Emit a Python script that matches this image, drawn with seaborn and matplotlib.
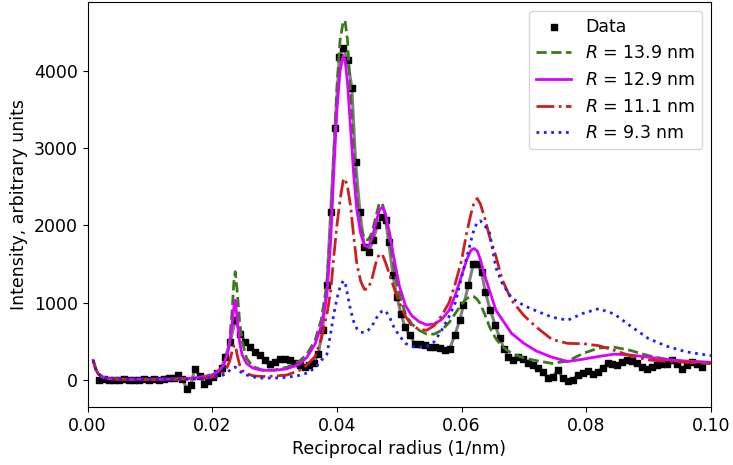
import matplotlib
matplotlib.use("Agg")
import matplotlib.pyplot as plt
import seaborn as sns

# measured data (reciprocal radius in 1/nm, intensity)
x_data = [0.0018, 0.0026, 0.0034, 0.0042, 0.0050, 0.0058, 0.0066, 0.0074, 0.0082, 0.0090,
          0.0098, 0.0106, 0.0114, 0.0122, 0.0130, 0.0138, 0.0145, 0.0152, 0.0159, 0.0166,
          0.0172, 0.0180, 0.0187, 0.0194, 0.0202, 0.0208, 0.0215, 0.0221, 0.0229, 0.0237,
          0.0245, 0.0253, 0.0261, 0.0269, 0.0277, 0.0285, 0.0293, 0.0301, 0.0309, 0.0317,
          0.0325, 0.0333, 0.0341, 0.0349, 0.0356, 0.0363, 0.0370, 0.0377, 0.0384, 0.0390,
          0.0397, 0.0404, 0.0410, 0.0417, 0.0424, 0.0430, 0.0437, 0.0444, 0.0451, 0.0458,
          0.0465, 0.0472, 0.0478, 0.0483, 0.0490, 0.0496, 0.0503, 0.0509, 0.0517, 0.0525,
          0.0533, 0.0541, 0.0549, 0.0557, 0.0565, 0.0573, 0.0581, 0.0589, 0.0597, 0.0603,
          0.0611, 0.0619, 0.0625, 0.0632, 0.0638, 0.0646, 0.0654, 0.0661, 0.0668, 0.0675,
          0.0683, 0.0691, 0.0699, 0.0707, 0.0715, 0.0723, 0.0731, 0.0739, 0.0746, 0.0754,
          0.0762, 0.0770, 0.0778, 0.0786, 0.0794, 0.0802, 0.0810, 0.0818, 0.0826, 0.0834,
          0.0842, 0.0850, 0.0858, 0.0866, 0.0874, 0.0882, 0.0890, 0.0898, 0.0906, 0.0914,
          0.0922, 0.0930, 0.0938, 0.0946, 0.0954, 0.0962, 0.0970, 0.0978, 0.0985]
y_data = [-10, 5, -5, 0, -10, 5, -5, 0, -10, 5,
          -5, 10, -5, 5, 15, 25, 56, 10, -117, -65,
          143, 43, -52, -18, 34, 86, 156, 294, 488, 770,
          597, 488, 423, 358, 315, 250, 208, 229, 273, 273,
          250, 216, 186, 164, 190, 220, 330, 640, 1225, 2170,
          3264, 4190, 4300, 4150, 3780, 2820, 2173, 1720, 1650, 1810,
          2000, 2112, 2069, 1787, 1355, 1073, 850, 683, 575, 467,
          467, 445, 423, 420, 410, 380, 402, 575, 770, 965,
          1225, 1506, 1506, 1393, 1140, 900, 705, 540, 402, 294,
          250, 294, 273, 220, 190, 150, 99, 20, 30, 130,
          20, -20, -10, 60, 80, 110, 78, 99, 150, 210,
          200, 186, 229, 250, 235, 215, 160, 143, 164, 190,
          208, 208, 250, 200, 143, 186, 229, 200, 164]

# model curves, sampled on a shared grid
x_fit = [0.0009, 0.0013, 0.0017, 0.0025, 0.0035, 0.006, 0.010, 0.014, 0.017, 0.019,
         0.020, 0.021, 0.0218, 0.0224, 0.0228, 0.0232, 0.0235, 0.0237, 0.0240, 0.0244,
         0.0248, 0.0255, 0.0265, 0.0280, 0.0300, 0.0320, 0.0340, 0.0352, 0.0365, 0.0375,
         0.0384, 0.0390, 0.0395, 0.0400, 0.0405, 0.0410, 0.0413, 0.0417, 0.0422, 0.0427,
         0.0432, 0.0438, 0.0444, 0.0450, 0.0456, 0.0462, 0.0468, 0.0473, 0.0478, 0.0485,
         0.0492, 0.0500, 0.0510, 0.0520, 0.0532, 0.0544, 0.0556, 0.0568, 0.0580, 0.0590,
         0.0600, 0.0608, 0.0615, 0.0620, 0.0625, 0.0630, 0.0637, 0.0645, 0.0655, 0.0665,
         0.0680, 0.0700, 0.0720, 0.0745, 0.0770, 0.0795, 0.0820, 0.0845, 0.0870, 0.0900,
         0.0930, 0.0960, 0.1000]
fit_139 = [250, 140, 75, 30, 12, 5, 5, 8, 20, 45,
           70, 110, 180, 330, 520, 900, 1300, 1400, 1150, 750,
           500, 280, 170, 125, 125, 160, 240, 330, 510, 780,
           1250, 2000, 2900, 3800, 4400, 4640, 4660, 4400, 3700, 2950,
           2350, 1980, 1830, 1810, 1900, 2100, 2290, 2280, 2130, 1800,
           1420, 1100, 850, 720, 640, 590, 590, 640, 740, 860,
           980, 1050, 1080, 1075, 1040, 980, 850, 680, 530, 430,
           340, 280, 245, 210, 240, 340, 410, 420, 380, 310,
           260, 230, 205]
fit_129 = [250, 140, 75, 30, 12, 5, 5, 8, 18, 40,
           60, 110, 180, 320, 470, 730, 960, 1030, 780, 480,
           320, 210, 150, 120, 120, 140, 200, 290, 460, 700,
           1100, 1800, 2700, 3500, 4000, 4200, 4150, 3850, 3250, 2650,
           2200, 1900, 1740, 1720, 1820, 2020, 2200, 2240, 2150, 1880,
           1550, 1220, 960, 830, 750, 710, 720, 780, 900, 1100,
           1350, 1550, 1680, 1700, 1670, 1560, 1350, 1150, 900, 780,
           600, 470, 370, 290, 235, 265, 300, 330, 320, 290,
           260, 240, 225]
fit_111 = [250, 140, 75, 30, 10, 3, 2, 3, 8, 20,
           30, 55, 90, 160, 240, 370, 440, 450, 320, 190,
           120, 80, 50, 40, 45, 60, 120, 190, 300, 530,
           850, 1150, 1600, 2000, 2330, 2580, 2610, 2500, 2250, 1850,
           1500, 1280, 1170, 1180, 1300, 1500, 1630, 1620, 1520, 1350,
           1180, 1000, 820, 700, 650, 640, 700, 830, 1000, 1250,
           1550, 1900, 2150, 2300, 2350, 2280, 2100, 1850, 1600, 1300,
           1030, 830, 680, 520, 470, 465, 440, 380, 310, 255,
           235, 225, 215]
fit_93 = [250, 140, 75, 30, 10, 3, 2, 3, 8, 15,
          25, 40, 60, 90, 120, 150, 160, 160, 140, 110,
          85, 60, 35, 20, 20, 30, 55, 85, 150, 250,
          330, 600, 850, 1050, 1200, 1280, 1270, 1100, 900, 750,
          660, 615, 610, 640, 690, 780, 860, 890, 895, 800,
          670, 570, 470, 430, 420, 430, 490, 640, 820, 1000,
          1330, 1580, 1800, 1950, 2040, 2060, 2000, 1900, 1450, 1250,
          1060, 960, 890, 810, 770, 860, 920, 850, 700, 530,
          430, 360, 310]

fits = [
    ("$R$ = 13.9 nm", fit_139, "#3b7a1c", "--"),
    ("$R$ = 12.9 nm", fit_129, "#dc00ff", "-"),
    ("$R$ = 11.1 nm", fit_111, "#cc1f1f", "-."),
    ("$R$ = 9.3 nm", fit_93, "#1f1fff", ":"),
]

plt.rcParams["font.size"] = 12.5
fig, ax = plt.subplots(figsize=(7.33, 4.65), dpi=100)
fig.subplots_adjust(left=0.1194, right=0.970, bottom=0.1247, top=0.9957)

sns.lineplot(x=x_data, y=y_data, ax=ax, color="gray", lw=2.2, estimator=None, sort=False)
data_pts = ax.scatter(x_data, y_data, marker="s", s=20, color="black", zorder=3, label="Data")

handles = [data_pts]
for label, vals, col, ls in fits:
    sns.lineplot(x=x_fit, y=vals, ax=ax, color=col, linestyle=ls, lw=2,
                 estimator=None, sort=False, zorder=4)
    handles.append(ax.lines[-1])
    ax.lines[-1].set_label(label)

ax.set_xlim(0, 0.1)
ax.set_xlabel("Reciprocal radius (1/nm)")
ax.set_ylabel("Intensity, arbitrary units")
ax.legend(handles=handles, labels=[h.get_label() for h in handles], loc="upper right")

fig.savefig("out.png", dpi=100)
